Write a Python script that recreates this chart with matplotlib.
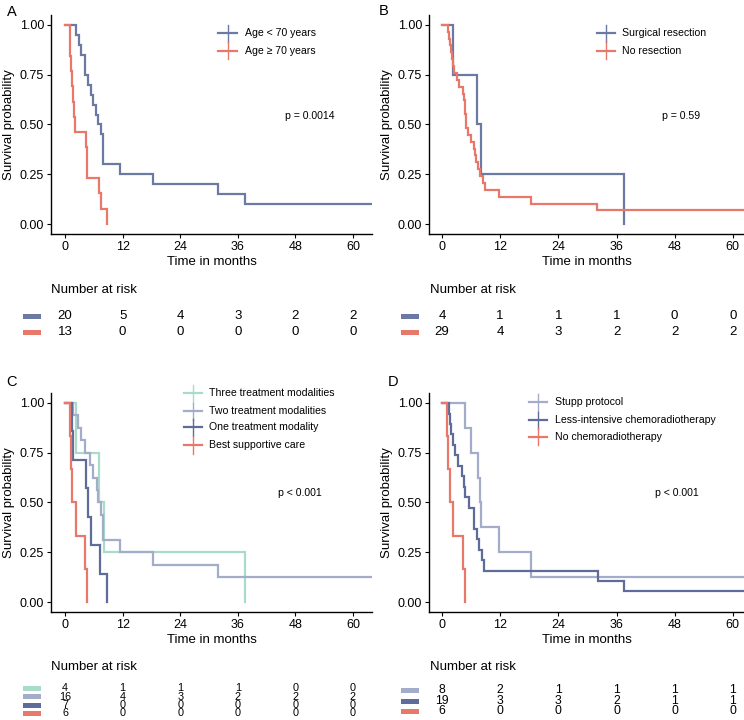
import matplotlib
matplotlib.use("Agg")
import matplotlib.pyplot as plt
from matplotlib.lines import Line2D
from matplotlib.patches import Rectangle
from matplotlib.transforms import blended_transform_factory

plt.rcParams["font.family"] = ["Liberation Sans", "DejaVu Sans"]

W, H = 744, 720

BLUE = "#6b79a3"
RED = "#e8786a"
MINT = "#a8dbc9"
LAVENDER = "#a3adc9"
NAVY = "#5f6c9a"

X_TICKS = [0, 12, 24, 36, 48, 60]
Y_TICKS = [0.0, 0.25, 0.5, 0.75, 1.0]
Y_TICK_LABELS = ["0.00", "0.25", "0.50", "0.75", "1.00"]

# ---- Panel A: age ----
A_LABELS = ["Age < 70 years", "Age \u2265 70 years"]
A_LT70_T = [2.2, 2.9, 3.4, 4.1, 4.8, 5.4, 5.9, 6.5, 6.9, 7.4, 7.9, 11.5, 18.3, 31.9, 37.4]
A_LT70_S = [0.95, 0.90, 0.85, 0.75, 0.70, 0.65, 0.60, 0.55, 0.50, 0.45, 0.30, 0.25, 0.20, 0.15, 0.10]
A_GE70_T = [1.0, 1.1, 1.3, 1.4, 1.7, 1.8, 2.1, 4.3, 4.6, 7.0, 7.4, 8.8]
A_GE70_S = [0.923, 0.846, 0.769, 0.692, 0.615, 0.538, 0.462, 0.385, 0.231, 0.154, 0.077, 0.0]
A_RISK = [[20, 5, 4, 3, 2, 2], [13, 0, 0, 0, 0, 0]]
A_P = "p = 0.0014"

# ---- Panel B: resection ----
B_LABELS = ["Surgical resection", "No resection"]
B_RES_T = [2.3, 7.2, 8.0, 37.5]
B_RES_S = [0.75, 0.50, 0.25, 0.0]
B_NORES_T = [1.2, 1.4, 1.6, 1.8, 2.0, 2.2, 2.4, 3.1, 3.6, 4.3, 4.5, 4.7, 4.8, 4.9,
             5.0, 5.4, 6.0, 6.5, 6.9, 7.1, 7.5, 7.9, 8.4, 8.9, 11.7, 18.4, 32.0]
B_NORES_S = [0.966, 0.931, 0.897, 0.862, 0.828, 0.793, 0.759, 0.724, 0.690, 0.655,
             0.621, 0.586, 0.552, 0.517, 0.483, 0.448, 0.414, 0.379, 0.345, 0.310,
             0.276, 0.241, 0.207, 0.172, 0.138, 0.103, 0.069]
B_RISK = [[4, 1, 1, 1, 0, 0], [29, 4, 3, 2, 2, 2]]
B_P = "p = 0.59"

# ---- Panel C: treatment modalities ----
C_LABELS = ["Three treatment modalities", "Two treatment modalities",
            "One treatment modality", "Best supportive care"]
C_THREE_T = [2.3, 7.1, 8.1, 37.4]
C_THREE_S = [0.75, 0.50, 0.25, 0.0]
C_TWO_T = [1.7, 2.8, 3.4, 4.1, 5.2, 5.9, 6.6, 6.9, 7.4, 7.9, 11.5, 18.3, 31.9]
C_TWO_S = [0.938, 0.875, 0.812, 0.75, 0.688, 0.625, 0.562, 0.50, 0.438, 0.312, 0.25, 0.188, 0.125]
C_ONE_T = [1.4, 1.7, 4.3, 4.8, 5.4, 7.2, 8.8]
C_ONE_S = [0.857, 0.714, 0.571, 0.429, 0.286, 0.143, 0.0]
C_BSC_T = [1.0, 1.2, 1.5, 2.2, 4.1, 4.6]
C_BSC_S = [0.833, 0.667, 0.50, 0.333, 0.167, 0.0]
C_RISK = [[4, 1, 1, 1, 0, 0], [16, 4, 3, 2, 2, 2], [7, 0, 0, 0, 0, 0], [6, 0, 0, 0, 0, 0]]
C_P = "p < 0.001"

# ---- Panel D: chemoradiotherapy ----
D_LABELS = ["Stupp protocol", "Less-intensive chemoradiotherapy", "No chemoradiotherapy"]
D_STUPP_T = [4.8, 6.0, 7.5, 7.9, 8.1, 11.7, 18.4]
D_STUPP_S = [0.875, 0.75, 0.625, 0.50, 0.375, 0.25, 0.125]
D_LESS_T = [1.4, 1.6, 1.8, 2.2, 2.75, 3.4, 4.1, 4.6, 4.8, 5.6, 6.5, 6.7, 7.2, 7.6,
            8.2, 8.7, 32.1, 37.5]
D_LESS_S = [0.947, 0.895, 0.842, 0.789, 0.737, 0.684, 0.632, 0.579, 0.526, 0.474,
            0.421, 0.368, 0.316, 0.263, 0.211, 0.158, 0.105, 0.053]
D_NONE_T = [1.0, 1.2, 1.7, 2.2, 4.3, 4.7]
D_NONE_S = [0.833, 0.667, 0.50, 0.333, 0.167, 0.0]
D_RISK = [[8, 2, 1, 1, 1, 1], [19, 3, 3, 2, 1, 1], [6, 0, 0, 0, 0, 0]]
D_P = "p < 0.001"


def fx(x):
    return x / W


def fy(y):
    return 1 - y / H


def km_step(ax, times, surv, color):
    """Step curve from t=0; curves that stay above 0 run to the panel edge."""
    end = ax.get_xlim()[1] + 1 if surv[-1] > 0 else times[-1]
    xs = [0] + list(times) + [end]
    ys = [1.0] + list(surv) + [surv[-1]]
    ax.step(xs, ys, where="post", color=color, lw=1.6, solid_joinstyle="miter")


def make_axes(fig, left, top, right, bottom, xlim):
    w, h = right - left, bottom - top
    ax = fig.add_axes([fx(left), fy(bottom), w / W, h / H])
    ax.set_xlim(*xlim)
    ax.set_ylim(-0.05, 1.05)
    ax.set_xticks(X_TICKS)
    ax.set_yticks(Y_TICKS)
    ax.set_yticklabels(Y_TICK_LABELS)
    for s in ("top", "right"):
        ax.spines[s].set_visible(False)
    for s in ("left", "bottom"):
        ax.spines[s].set_linewidth(1.0)
    ax.tick_params(length=3, width=0.8, labelsize=9, pad=2, colors="black")
    ax.set_xlabel("Time in months", fontsize=9.5, va="top")
    ax.set_ylabel("Survival probability", fontsize=9.5)
    # label positions in px offsets from the spines
    ax.xaxis.set_label_coords(0.5, -22 / h)
    ax.yaxis.set_label_coords(-36 / w, 0.5)
    return ax


def legend_block(fig, x0, x1, xt, rows, labels, colors):
    xm = (x0 + x1) / 2
    for y, lab, col in zip(rows, labels, colors):
        fig.add_artist(Line2D([fx(x0), fx(x1)], [fy(y), fy(y)], color=col, lw=1.6))
        fig.add_artist(Line2D([fx(xm), fx(xm)], [fy(y - 8.5), fy(y + 8.5)], color=col, lw=1.0))
        fig.text(fx(xt), fy(y), lab, fontsize=7.6, va="center", ha="left")


def risk_table(fig, ax, left, title_y, rows, counts, colors, patch_x, fs):
    fig.text(fx(left), fy(title_y), "Number at risk", fontsize=9.5, va="center", ha="left")
    tr = blended_transform_factory(ax.transData, fig.transFigure)
    for y, row, col in zip(rows, counts, colors):
        fig.add_artist(Rectangle((fx(patch_x), fy(y + 2.5)), fx(18), 5 / H,
                                 color=col, lw=0))
        for t, n in zip(X_TICKS, row):
            fig.text(t, fy(y), str(n), transform=tr, fontsize=fs,
                     ha="center", va="center")


fig = plt.figure(figsize=(W / 100, H / 100), dpi=100)

# A
axA = make_axes(fig, 51, 15, 372, 234, (-2.92, 63.96))
km_step(axA, A_LT70_T, A_LT70_S, BLUE)
km_step(axA, A_GE70_T, A_GE70_S, RED)
legend_block(fig, 218, 237, 245, [33.3, 50.7], A_LABELS, [BLUE, RED])
fig.text(fx(285), fy(116), A_P, fontsize=7.6, va="center")
fig.text(fx(7), fy(5), "A", fontsize=10.5, va="top")
risk_table(fig, axA, 51, 290, [316, 332], A_RISK, [BLUE, RED], 23, 9.5)

# B
axB = make_axes(fig, 429, 15, 744, 234, (-2.68, 62.3))
km_step(axB, B_RES_T, B_RES_S, BLUE)
km_step(axB, B_NORES_T, B_NORES_S, RED)
legend_block(fig, 597, 615, 622, [33.3, 50.7], B_LABELS, [BLUE, RED])
fig.text(fx(662), fy(116), B_P, fontsize=7.6, va="center")
fig.text(fx(379), fy(4), "B", fontsize=10.5, va="top")
risk_table(fig, axB, 430, 290, [316, 332], B_RISK, [BLUE, RED], 401, 9.5)

# C
c_cols = [MINT, LAVENDER, NAVY, RED]
axC = make_axes(fig, 51, 393, 372, 612, (-2.92, 63.96))
km_step(axC, C_THREE_T, C_THREE_S, MINT)
km_step(axC, C_TWO_T, C_TWO_S, LAVENDER)
km_step(axC, C_ONE_T, C_ONE_S, NAVY)
km_step(axC, C_BSC_T, C_BSC_S, RED)
legend_block(fig, 184, 202, 209, [393.3, 411, 427.3, 445], C_LABELS, c_cols)
fig.text(fx(278), fy(493), C_P, fontsize=7.6, va="center")
fig.text(fx(6), fy(375), "C", fontsize=10.5, va="top")
risk_table(fig, axC, 51, 667, [688, 696.5, 705, 713.5], C_RISK, c_cols, 23, 7.8)

# D
d_cols = [LAVENDER, NAVY, RED]
axD = make_axes(fig, 429, 393, 744, 612, (-2.68, 62.3))
km_step(axD, D_STUPP_T, D_STUPP_S, LAVENDER)
km_step(axD, D_LESS_T, D_LESS_S, NAVY)
km_step(axD, D_NONE_T, D_NONE_S, RED)
legend_block(fig, 529, 547, 555, [402.3, 420, 436.7], D_LABELS, d_cols)
fig.text(fx(655), fy(493), D_P, fontsize=7.6, va="center")
fig.text(fx(388), fy(375), "D", fontsize=10.5, va="top")
risk_table(fig, axD, 430, 667, [690, 701, 711.5], D_RISK, d_cols, 401, 8.8)

fig.savefig("out.png", dpi=100)
